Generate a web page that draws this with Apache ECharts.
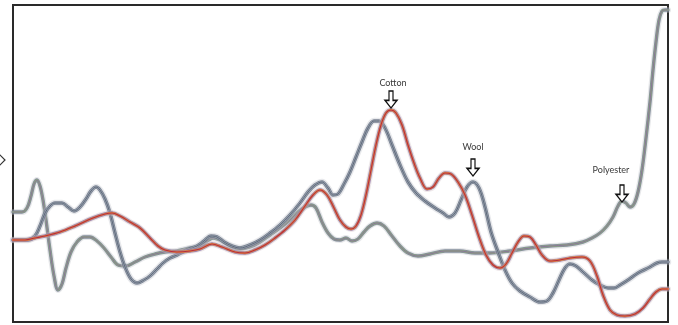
<!DOCTYPE html>
<html>
<head>
<meta charset="utf-8">
<script src="https://cdn.jsdelivr.net/npm/echarts@6/dist/echarts.min.js"></script>
<style>
  html, body { margin: 0; padding: 0; background: #fff; }
  #chart { width: 678px; height: 325px; }
</style>
</head>
<body>
<div id="chart"></div>
<script>
// spectra: wavelength (nm) and absorbance (a.u.)
const cottonNm = [1000, 1024, 1044, 1064, 1094, 1124, 1160, 1184, 1198, 1214, 1234, 1254, 1274, 1290, 1304, 1328, 1354, 1374, 1398, 1418, 1444, 1464, 1484, 1504, 1524, 1544, 1564, 1584, 1600, 1614, 1628, 1642, 1654, 1666, 1676, 1686, 1696, 1706, 1716, 1726, 1736, 1746, 1756, 1766, 1778, 1790, 1802, 1814, 1828, 1840, 1852, 1864, 1876, 1890, 1904, 1918, 1932, 1946, 1960, 1974, 1986, 1998, 2010, 2022, 2034, 2046, 2058, 2074, 2094, 2114, 2138, 2154, 2168, 2180, 2194, 2208, 2224, 2244, 2260, 2274, 2286, 2298, 2310]
const cottonAbs = [0.82, 0.82, 0.84, 0.86, 0.90, 0.96, 1.04, 1.08, 1.09, 1.06, 1.00, 0.94, 0.84, 0.76, 0.72, 0.70, 0.71, 0.73, 0.78, 0.75, 0.70, 0.69, 0.72, 0.77, 0.84, 0.92, 1.02, 1.16, 1.27, 1.32, 1.27, 1.14, 1.02, 0.95, 0.93, 0.96, 1.07, 1.27, 1.52, 1.77, 1.97, 2.09, 2.12, 2.09, 1.97, 1.77, 1.59, 1.44, 1.33, 1.35, 1.44, 1.49, 1.48, 1.40, 1.27, 1.07, 0.85, 0.67, 0.57, 0.54, 0.58, 0.69, 0.80, 0.86, 0.85, 0.77, 0.67, 0.61, 0.62, 0.64, 0.65, 0.61, 0.46, 0.27, 0.12, 0.07, 0.06, 0.08, 0.14, 0.23, 0.30, 0.33, 0.33]

const woolNm = [1000, 1030, 1044, 1054, 1064, 1074, 1084, 1098, 1110, 1122, 1134, 1146, 1156, 1166, 1174, 1184, 1194, 1204, 1214, 1224, 1236, 1248, 1262, 1274, 1288, 1300, 1314, 1328, 1348, 1368, 1382, 1396, 1408, 1422, 1438, 1454, 1474, 1494, 1514, 1534, 1554, 1574, 1590, 1604, 1618, 1630, 1640, 1650, 1662, 1674, 1686, 1698, 1710, 1722, 1732, 1744, 1758, 1774, 1790, 1806, 1824, 1844, 1860, 1872, 1884, 1896, 1908, 1920, 1932, 1944, 1956, 1970, 1984, 1998, 2014, 2034, 2054, 2068, 2080, 2092, 2104, 2114, 2126, 2140, 2158, 2174, 2190, 2202, 2214, 2230, 2250, 2270, 2288, 2298, 2310]
const woolAbs = [0.82, 0.82, 0.86, 0.96, 1.09, 1.16, 1.19, 1.19, 1.15, 1.11, 1.15, 1.23, 1.31, 1.35, 1.32, 1.23, 1.09, 0.89, 0.70, 0.55, 0.43, 0.39, 0.42, 0.46, 0.53, 0.59, 0.64, 0.67, 0.72, 0.76, 0.81, 0.86, 0.85, 0.80, 0.76, 0.74, 0.77, 0.82, 0.89, 0.97, 1.07, 1.19, 1.30, 1.37, 1.40, 1.34, 1.27, 1.28, 1.38, 1.50, 1.65, 1.80, 1.94, 2.01, 2.01, 1.94, 1.77, 1.57, 1.40, 1.29, 1.21, 1.14, 1.09, 1.05, 1.09, 1.22, 1.35, 1.40, 1.34, 1.15, 0.90, 0.70, 0.52, 0.39, 0.31, 0.25, 0.20, 0.21, 0.29, 0.42, 0.54, 0.58, 0.56, 0.50, 0.42, 0.37, 0.34, 0.34, 0.37, 0.42, 0.49, 0.54, 0.59, 0.60, 0.60]

const polyNm = [1000, 1018, 1028, 1036, 1042, 1048, 1054, 1060, 1066, 1074, 1082, 1090, 1098, 1106, 1116, 1128, 1142, 1154, 1168, 1182, 1196, 1210, 1226, 1244, 1264, 1284, 1304, 1328, 1354, 1374, 1388, 1400, 1414, 1434, 1454, 1474, 1494, 1514, 1534, 1554, 1570, 1584, 1596, 1606, 1618, 1630, 1642, 1654, 1666, 1678, 1690, 1702, 1714, 1728, 1742, 1758, 1774, 1790, 1810, 1834, 1864, 1894, 1924, 1954, 1994, 2034, 2074, 2108, 2140, 2158, 2174, 2188, 2200, 2210, 2218, 2226, 2234, 2242, 2250, 2258, 2266, 2274, 2280, 2286, 2292, 2298, 2304, 2310]
const polyAbs = [1.10, 1.10, 1.14, 1.26, 1.38, 1.42, 1.36, 1.22, 1.02, 0.72, 0.46, 0.32, 0.38, 0.54, 0.70, 0.80, 0.85, 0.85, 0.81, 0.74, 0.65, 0.57, 0.56, 0.60, 0.65, 0.68, 0.70, 0.71, 0.74, 0.76, 0.81, 0.84, 0.82, 0.76, 0.73, 0.75, 0.80, 0.87, 0.94, 1.02, 1.10, 1.15, 1.17, 1.14, 1.00, 0.89, 0.83, 0.82, 0.84, 0.81, 0.83, 0.90, 0.96, 0.99, 0.96, 0.86, 0.76, 0.69, 0.66, 0.68, 0.71, 0.71, 0.69, 0.69, 0.71, 0.74, 0.76, 0.77, 0.80, 0.84, 0.89, 0.96, 1.05, 1.16, 1.21, 1.19, 1.15, 1.18, 1.30, 1.52, 1.84, 2.20, 2.52, 2.80, 3.02, 3.11, 3.12, 3.12]

// peak labels and where the arrow tips sit
const peakNames = ['Cotton', 'Wool', 'Polyester']
const peakNm = [1756, 1920, 2218]
const peakAbs = [2.14, 1.46, 1.20]
const labelNm = [1760, 1920, 2196]
const labelAbs = [2.39, 1.75, 1.52]

const pairs = (nm, ab) => nm.map((x, i) => [x, ab[i]])

// each class is drawn as stacked strokes so it looks like a bundle of many spectra
const bundles = [
  {data: pairs(polyNm, polyAbs), strokes: [['#b9bcc2', 6, 0.35], ['#7a8494', 3.4, 0.9], ['#8cab7c', 2, 0.9], ['#8a68a0', 0.9, 0.9]]},
  {data: pairs(woolNm, woolAbs), strokes: [['#bcc1c8', 6.5, 0.35], ['#6c7686', 3.6, 0.9], ['#9ea7b5', 2, 0.9], ['#4f5a6c', 0.9, 0.9]]},
  {data: pairs(cottonNm, cottonAbs), strokes: [['#cfbcc2', 6, 0.35], ['#8f76a8', 3.6, 0.85], ['#e08a45', 2.3, 0.95], ['#b3283f', 1.1, 0.95]]},
]

const series = []
bundles.forEach((b) => {
  b.strokes.forEach(([color, width, opacity]) => {
    series.push({
      type: 'line',
      data: b.data,
      smooth: 0.35,
      symbol: 'none',
      silent: true,
      lineStyle: {color, width, opacity, cap: 'round', join: 'round'},
    })
  })
})

const arrowPath = 'path://M4,0 L8,0 L8,10 L12,10 L6,18 L0,10 L4,10 Z'
series.push({
  type: 'line',
  data: [],
  markPoint: {
    silent: true,
    data: peakNames.map((name, i) => ({
      coord: [peakNm[i], peakAbs[i]],
      symbol: arrowPath,
      symbolSize: [12, 17],
      symbolOffset: [0, '-50%'],
      itemStyle: {color: '#fff', borderColor: '#111', borderWidth: 1.4},
      label: {show: false},
    })).concat(peakNames.map((name, i) => ({
      coord: [labelNm[i], labelAbs[i]],
      symbol: 'circle',
      symbolSize: 1,
      itemStyle: {color: 'rgba(0,0,0,0)'},
      label: {
        show: true,
        position: 'inside',
        formatter: name,
        color: '#3a3a3a',
        fontSize: 9,
        fontFamily: 'Lato',
      },
    }))),
  },
})

const chart = echarts.init(document.getElementById('chart'), null, {renderer: 'canvas'})
chart.setOption({
  animation: false,
  backgroundColor: '#fff',
  grid: {
    show: true,
    left: 13,
    right: 10,
    top: 5,
    bottom: 3,
    borderColor: '#2a2a2a',
    borderWidth: 2,
    backgroundColor: '#fff',
  },
  xAxis: {type: 'value', min: 1000, max: 2310, show: false},
  yAxis: {type: 'value', min: 0, max: 3.17, show: false},
  series,
  graphic: [
    {
      // small hollow pointer cut off at the left edge
      type: 'polygon',
      shape: {points: [[-6, 157], [-1, 157], [-1, 154], [5, 160], [-1, 166], [-1, 163], [-6, 163]]},
      style: {fill: '#fff', stroke: '#333', lineWidth: 1.2},
    },
  ],
})
</script>
</body>
</html>
